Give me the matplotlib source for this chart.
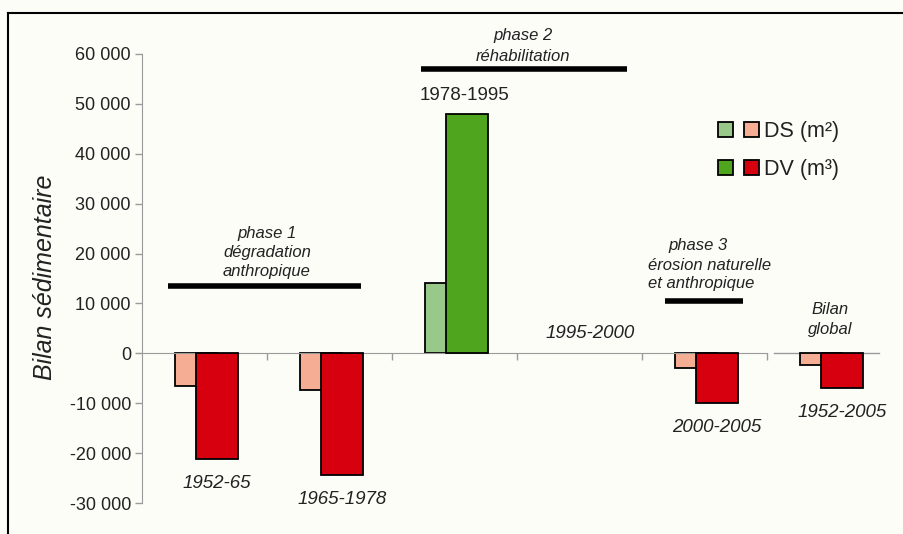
import numpy as np
import matplotlib
matplotlib.use("Agg")
import matplotlib.pyplot as plt
from matplotlib.lines import Line2D
from matplotlib.patches import Patch
from matplotlib.legend_handler import HandlerTuple
from matplotlib.ticker import FuncFormatter

plt.rcParams['font.family'] = ['Liberation Sans', 'DejaVu Sans']
plt.rcParams['axes.unicode_minus'] = False

# Données
periodes = ["1952-65", "1965-1978", "1978-1995", "1995-2000", "2000-2005", "1952-2005"]
ds = [-6600, -7400, 14000, 0, -3000, -2400]        # DS (m2)
dv = [-21200, -24400, 48000, 0, -10000, -7000]     # DV (m3)

# Couleurs
ds_neg, dv_neg = "#F5AE94", "#D6000F"
ds_pos, dv_pos = "#98C98A", "#4FA61E"
gris = "#9A9A9A"
texte = "#222222"

fig = plt.figure(figsize=(9.04, 5.34), dpi=100, facecolor="#FDFDF8")
ax = fig.add_axes([142 / 904, 31 / 534, 750 / 904, 449 / 534])
ax.set_facecolor("none")

x = np.arange(len(periodes))
ds_col = [ds_pos if v > 0 else ds_neg for v in ds]
dv_col = [dv_pos if v > 0 else dv_neg for v in dv]
ds_edge = ["black" if v != 0 else "none" for v in ds]
dv_edge = ["black" if v != 0 else "none" for v in dv]
ax.bar(x + 0.43, ds, width=0.336, color=ds_col, edgecolor=ds_edge, linewidth=1.3, zorder=2)
ax.bar(x + 0.60, dv, width=0.336, color=dv_col, edgecolor=dv_edge, linewidth=1.3, zorder=3)

ax.set_xlim(0, 6)
ax.set_ylim(-30000, 60000)
ax.set_yticks(np.arange(-30000, 60001, 10000))
ax.yaxis.set_major_formatter(FuncFormatter(lambda v, p: f"{int(v):,}".replace(",", " ")))
ax.tick_params(axis="y", colors=gris, labelcolor=texte, labelsize=13, length=5, width=1, pad=3)

# axe horizontal en zéro
for s in ["top", "right"]:
    ax.spines[s].set_visible(False)
ax.spines["left"].set_color(gris)
ax.spines["bottom"].set_color(gris)
ax.spines["bottom"].set_position(("data", 0))
ax.spines["bottom"].set_bounds(-0.032, 5)
ax.set_xticks([1, 2, 3, 4, 5])
ax.tick_params(axis="x", colors=gris, length=5, width=1, labelbottom=False)
ax.plot([5.06, 5.9], [0, 0], color=gris, linewidth=1, clip_on=False, zorder=1)

# étiquettes des périodes
for i, p in enumerate(periodes):
    if dv[i] < 0:
        ax.text(i + 0.6, dv[i] - 4800, p, ha="center", va="center", fontsize=13.5,
                style="italic", color=texte)
    elif dv[i] > 0:
        ax.text(i + 0.6 - 0.016, dv[i] + 3700, p, ha="center", va="center", fontsize=13.5,
                color=texte)
    else:
        ax.text(i + 0.6 - 0.016, 4000, p, ha="center", va="center", fontsize=13.5,
                style="italic", color=texte)

# phases
kw = dict(color="black", linewidth=4, solid_capstyle="butt", clip_on=False)
ax.plot([0.208, 1.752], [13500, 13500], **kw)
ax.plot([2.232, 3.88], [57000, 57000], **kw)
ax.plot([4.184, 4.808], [10500, 10500], **kw)

ax.text(1.0, 20200, "phase 1\ndégradation\nanthropique", ha="center", va="center",
        fontsize=12, style="italic", color=texte, linespacing=1.3)
ax.text(3.05, 61600, "phase 2\nréhabilitation", ha="center", va="center",
        fontsize=12, style="italic", color=texte, linespacing=1.5)
ax.text(4.45, 21700, "phase 3", ha="center", va="center",
        fontsize=12, style="italic", color=texte)
ax.text(4.048, 15800, "érosion naturelle\net anthropique", ha="left", va="center",
        fontsize=12, style="italic", color=texte, linespacing=1.2)
ax.text(5.504, 6800, "Bilan\nglobal", ha="center", va="center",
        fontsize=12, style="italic", color=texte, linespacing=1.45)

# légende
h_ds = (Patch(facecolor=ds_pos, edgecolor="black", linewidth=1.3),
        Patch(facecolor=ds_neg, edgecolor="black", linewidth=1.3))
h_dv = (Patch(facecolor=dv_pos, edgecolor="black", linewidth=1.3),
        Patch(facecolor=dv_neg, edgecolor="black", linewidth=1.3))
fig.legend([h_ds, h_dv], ["DS (m²)", "DV (m³)"],
           handler_map={tuple: HandlerTuple(ndivide=None, pad=0.53)},
           loc="upper left", bbox_to_anchor=(718 / 904, 1 - 121 / 534),
           frameon=False, fontsize=15.5, handlelength=1.9, handleheight=0.68,
           handletextpad=0.24, labelspacing=0.8, borderpad=0, borderaxespad=0,
           labelcolor=texte)

# titre de l'axe
fig.text(45 / 904, 1 - 277 / 534, "Bilan sédimentaire", rotation=90, ha="center",
         va="center", fontsize=18, style="italic", color=texte)

# cadre (haut et gauche)
fig.add_artist(Line2D([7.5 / 904, 1], [1 - 12.5 / 534, 1 - 12.5 / 534], color="black",
                      linewidth=1.5, transform=fig.transFigure))
fig.add_artist(Line2D([7.5 / 904, 7.5 / 904], [0, 1 - 12.5 / 534], color="black",
                      linewidth=1.5, transform=fig.transFigure))

fig.savefig("out.png", dpi=100, facecolor=fig.get_facecolor())
